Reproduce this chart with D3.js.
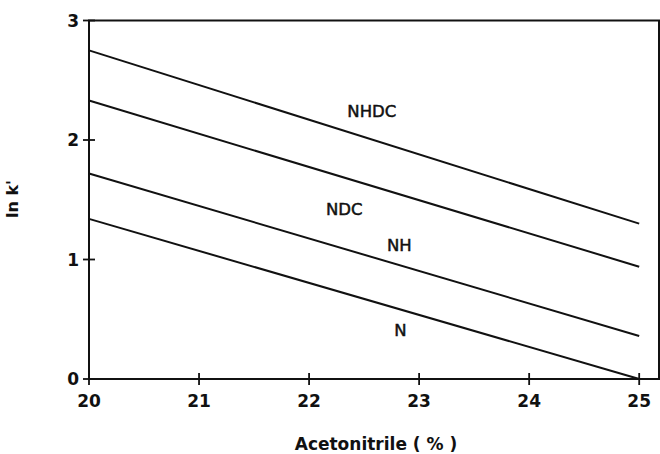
<!DOCTYPE html>
<html><head><meta charset="utf-8">
<script src="https://cdn.jsdelivr.net/npm/d3@7"></script>
<style>body{margin:0;background:#fff}svg text{font-family:"DejaVu Sans",sans-serif;fill:#111}</style>
</head><body><svg id="c" width="660" height="454"></svg>
<script>
const seriesNames = ["NHDC","NDC","NH","N"];
const xValues = [20, 25];
const NHDC = [2.75, 1.30];
const NDC = [2.33, 0.94];
const NH = [1.72, 0.36];
const N = [1.34, 0.0];
const labelX = [22.57, 22.32, 22.82, 22.83];
const labelY = [2.24, 1.42, 1.12, 0.41];
const xTicks = [20,21,22,23,24,25];
const yTicks = [0,1,2,3];

const svg = d3.select("#c");
const x = d3.scaleLinear().domain([20, 25.18]).range([89, 659]);
const y = d3.scaleLinear().domain([0, 3]).range([379, 20.5]);
const g = svg.append("g");

g.append("rect").attr("x",89).attr("y",y(3)).attr("width",659-89).attr("height",y(0)-y(3))
 .attr("fill","none").attr("stroke","#111").attr("stroke-width",2);

xTicks.forEach(t=>{
  g.append("line").attr("x1",x(t)).attr("x2",x(t)).attr("y1",y(0)-6).attr("y2",y(0)+6).attr("stroke","#111").attr("stroke-width",1.8);
  g.append("text").attr("x",x(t)).attr("y",y(0)+28).attr("text-anchor","middle").attr("font-size",17).attr("font-weight","bold").text(t);
});
yTicks.forEach(t=>{
  g.append("line").attr("x1",89-6).attr("x2",89+6).attr("y1",y(t)).attr("y2",y(t)).attr("stroke","#111").attr("stroke-width",1.8);
  g.append("text").attr("x",79).attr("y",y(t)+6).attr("text-anchor","end").attr("font-size",17).attr("font-weight","bold").text(t);
});

const data = [NHDC, NDC, NH, N];
const line = d3.line().x((d,i)=>x(xValues[i])).y(d=>y(d));
data.forEach((s,k)=>{
  g.append("path").attr("d",line(s)).attr("fill","none").attr("stroke","#111").attr("stroke-width",2);
  g.append("text").attr("x",x(labelX[k])).attr("y",y(labelY[k])+6).attr("text-anchor","middle")
   .attr("font-size",16.5).attr("stroke","#111").attr("stroke-width",0.5).text(seriesNames[k]);
});

g.append("text").attr("x",376).attr("y",450).attr("text-anchor","middle").attr("font-size",17).attr("font-weight","bold").text("Acetonitrile ( % )");
g.append("text").attr("transform","translate(18,199) rotate(-90)").attr("text-anchor","middle").attr("font-size",16).attr("font-weight","bold").text("ln k'");
</script></body></html>
